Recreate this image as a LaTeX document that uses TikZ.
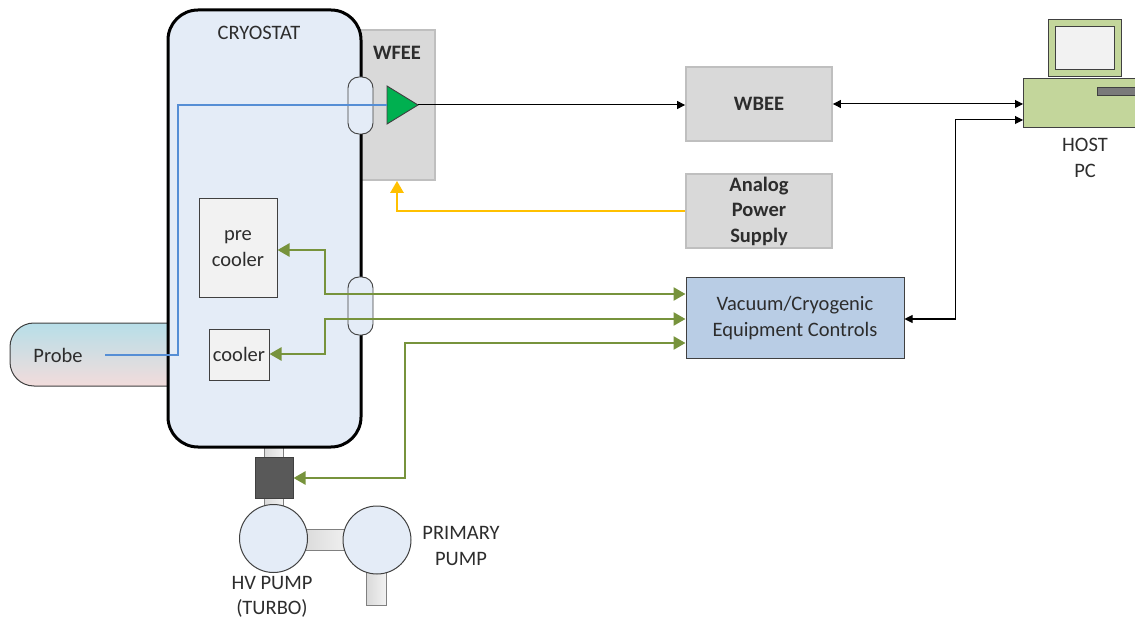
\documentclass[tikz,border=0pt]{standalone}
\usepackage{fontspec}
\setmainfont{Carlito}
\usetikzlibrary{arrows.meta}
\definecolor{cryofill}{RGB}{228,236,247}
\definecolor{greyfill}{RGB}{217,217,217}
\definecolor{greyline}{RGB}{191,191,191}
\definecolor{ctrlfill}{RGB}{185,205,229}
\definecolor{pcgreen}{RGB}{195,214,155}
\definecolor{darkline}{RGB}{64,64,64}
\definecolor{olive}{RGB}{119,147,60}
\definecolor{amber}{RGB}{255,192,0}
\definecolor{probeblue}{RGB}{85,142,213}
\definecolor{ampgreen}{RGB}{0,176,80}
\definecolor{valvegrey}{RGB}{89,89,89}
\definecolor{txt}{RGB}{45,45,45}
\definecolor{boxlight}{RGB}{242,242,242}
\begin{document}
\begin{tikzpicture}[x=1pt,y=-1pt,
  every node/.style={font=\fontsize{20.5}{25.5}\selectfont, text=txt, inner sep=0pt},
  greybox/.style={draw=greyline, fill=greyfill, line width=1.8pt, minimum width=146pt, minimum height=74pt, align=center, font=\fontsize{20.5}{25.5}\selectfont\bfseries},
  innerbox/.style={draw=darkline, fill=boxlight, line width=1pt, align=center},
  capsule/.style={draw=darkline, fill=cryofill, line width=0.9pt, rounded corners=11pt},
  pipe/.style={draw=gray, line width=0.8pt, left color=greyfill, right color=boxlight},
  garrow/.style={draw=olive, line width=2.6pt, {Triangle[length=12pt,width=13pt]}-{Triangle[length=12pt,width=13pt]}},
  barrow/.style={draw=black, line width=1pt},
  bone/.style={barrow, -{Triangle[length=8pt,width=8pt]}},
  btwo/.style={barrow, {Triangle[length=8pt,width=8pt]}-{Triangle[length=8pt,width=8pt]}},
]
\useasboundingbox (0,0) rectangle (1135,620);
\clip (0,0) rectangle (1135,620);

% probe
\path[draw=darkline, line width=1pt, top color={rgb,255:red,183;green,222;blue,232}, bottom color={rgb,255:red,242;green,220;blue,219}, rounded corners=24pt]
  (172,323) -- (10,323) -- (10,386) -- (172,386);
\node (probe) at (58,355) {Probe};

% WFEE box (behind cryostat)
\node[greybox, minimum width=76pt, minimum height=150pt] (wfee) at (397,105) {};
\node[font=\fontsize{20.5}{25.5}\selectfont\bfseries] (wfeelbl) at (397,53) {WFEE};

% pump neck pipe
\path[pipe] (264,444) rectangle (283,512);

% cryostat
\node[draw=black, fill=cryofill, line width=3pt, rounded corners=30pt, minimum width=193pt, minimum height=437pt] (cryo) at (264.5,228.5) {};
\node (cryolbl) at (259,33) {CRYOSTAT};

% feedthroughs
\path[capsule] (348,77) rectangle (373,134);
\path[capsule] (348,277) rectangle (373,335);

% inner boxes
\node[innerbox, minimum width=78pt, minimum height=99pt] (pre) at (238,248.5) {pre\\cooler};
\node[innerbox, minimum width=60pt, minimum height=51pt] (cool) at (239,354.5) {cooler};

% amplifier
\coordinate (ampin) at (387,105);
\coordinate (ampout) at (418,105);
\filldraw[fill=ampgreen, draw=darkline, line width=0.9pt] (387,86) -- (ampout) -- (387,124) -- cycle;

% valve
\node[draw=darkline, fill=valvegrey, line width=1pt, minimum width=38pt, minimum height=41pt] (valve) at (274,477.5) {};

% pumps
\path[pipe] (300,529) rectangle (350,550);
\path[pipe] (366,560) rectangle (386,605);
\node[circle, draw=darkline, fill=cryofill, line width=1pt, minimum size=68pt] (hvp) at (273.5,538.5) {};
\node[circle, draw=darkline, fill=cryofill, line width=1pt, minimum size=68pt] (prp) at (377,540) {};
\node[align=center] (hvlbl) at (272,597) {HV PUMP\\(TURBO)};
\node[align=center] (prlbl) at (461,546) {PRIMARY\\PUMP};

% right-side boxes
\node[greybox] (wbee) at (759,104) {WBEE};
\node[greybox] (aps) at (759,211) {Analog\\Power\\Supply};
\node[draw=darkline, fill=ctrlfill, line width=1pt, minimum width=218pt, minimum height=80pt, align=center] (ctrl) at (795,318) {Vacuum/Cryogenic\\Equipment Controls};

% host pc
\node[draw=darkline, fill=pcgreen, line width=1pt, minimum width=73pt, minimum height=57pt] (mon) at (1084.5,48.5) {};
\node[draw=darkline, fill=boxlight, line width=1pt, minimum width=59pt, minimum height=43pt] (screen) at (1084.5,48.5) {};
\node[draw=darkline, fill=pcgreen, line width=1pt, minimum width=130pt, minimum height=49pt, anchor=west] (pcbase) at (1023,103.5) {};
\node[draw=darkline, fill=valvegrey!80, line width=0.8pt, minimum width=60pt, minimum height=8pt, anchor=west] (slot) at (1097,91.5) {};
\node[align=center] (pclbl) at (1085,158) {HOST\\PC};

% connectors
\coordinate (probeend) at (105,355);
\draw[probeblue, line width=2pt] (probeend) -- (178,355) -- (178,105) -- (ampin);
\draw[bone] (ampout) -- (wbee.west |- ampout);
\draw[amber, line width=2.6pt, -{Triangle[length=12pt,width=13pt]}] (aps.west) -- (397,211) -- (wfee.south);
\draw[btwo] (wbee.east) -- (pcbase.west |- wbee.east);
\draw[btwo] (pcbase.west |- 0,120) -- (955,120) -- (955,319) -- (ctrl.east |- 0,319);
\draw[garrow] (pre.east |- 0,250) -- (325,250) -- (325,294) -- (ctrl.west |- 0,294);
\draw[garrow] (cool.east |- 0,354) -- (325,354) -- (325,319) -- (ctrl.west |- 0,319);
\draw[garrow] (valve.east |- 0,478) -- (405,478) -- (405,343) -- (ctrl.west |- 0,343);
\end{tikzpicture}
\end{document}
